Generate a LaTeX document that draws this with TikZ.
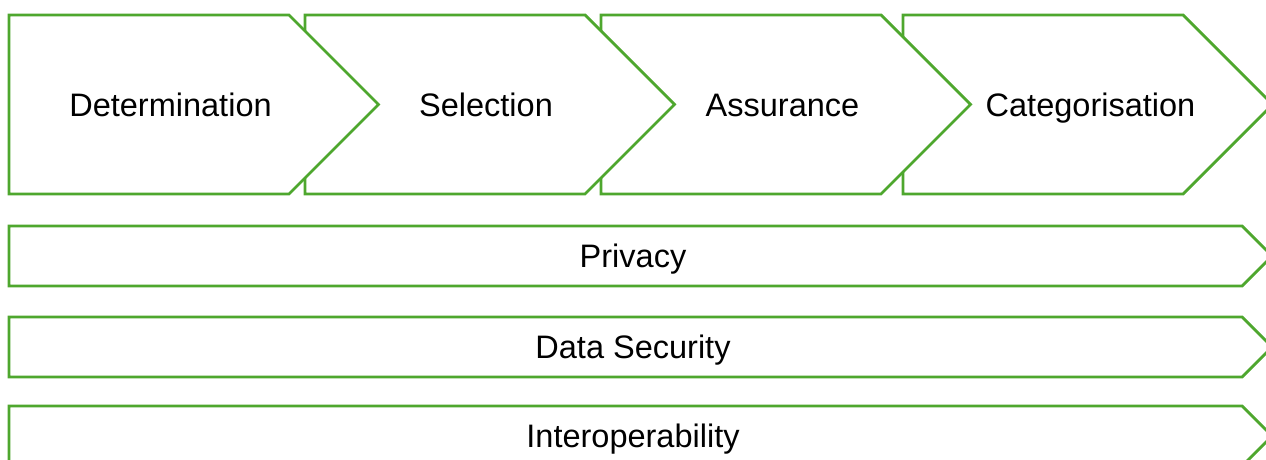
\documentclass[tikz,border=0pt]{standalone}
\usepackage{fontspec}
\setmainfont{Liberation Sans}
\usepackage{tikz}

\definecolor{pgreen}{RGB}{78,167,46}

\begin{document}
\begin{tikzpicture}[
  stage/.style={draw=pgreen, line width=1.6pt, fill=white},
  lbl/.style={font=\fontsize{18.5}{22}\selectfont, inner sep=0pt, text height=13.3pt, text depth=0pt}
]
\useasboundingbox (0,0) rectangle (25.32,9.18);
\clip (0,0) rectangle (25.32,9.18);

% Process stages (drawn back to front)
\draw[stage] (18.06,8.88) -- (23.66,8.88) -- (25.45,7.09) -- (23.66,5.30) -- (18.06,5.30) -- cycle;
\draw[stage] (12.02,8.88) -- (17.62,8.88) -- (19.41,7.09) -- (17.62,5.30) -- (12.02,5.30) -- cycle;
\draw[stage] (6.10,8.88) -- (11.70,8.88) -- (13.49,7.09) -- (11.70,5.30) -- (6.10,5.30) -- cycle;
\draw[stage] (0.18,8.88) -- (5.78,8.88) -- (7.57,7.09) -- (5.78,5.30) -- (0.18,5.30) -- cycle;

\node[lbl] (determination) at (3.41,7.09) {Determination};
\node[lbl] (selection) at (9.72,7.09) {Selection};
\node[lbl] (assurance) at (15.65,7.09) {Assurance};
\node[lbl] (categorisation) at (21.81,7.09) {Categorisation};

% Cross-cutting bars
\draw[stage] (0.18,4.66) -- (24.84,4.66) -- (25.44,4.06) -- (24.84,3.46) -- (0.18,3.46) -- cycle;
\node[lbl] (privacy) at (12.66,4.06) {Privacy};

\draw[stage] (0.18,2.84) -- (24.84,2.84) -- (25.44,2.24) -- (24.84,1.64) -- (0.18,1.64) -- cycle;
\node[lbl] (security) at (12.66,2.24) {Data Security};

\draw[stage] (0.18,1.06) -- (24.84,1.06) -- (25.44,0.46) -- (24.84,-0.14) -- (0.18,-0.14) -- cycle;
\node[lbl] (interop) at (12.66,0.46) {Interoperability};

\end{tikzpicture}
\end{document}
